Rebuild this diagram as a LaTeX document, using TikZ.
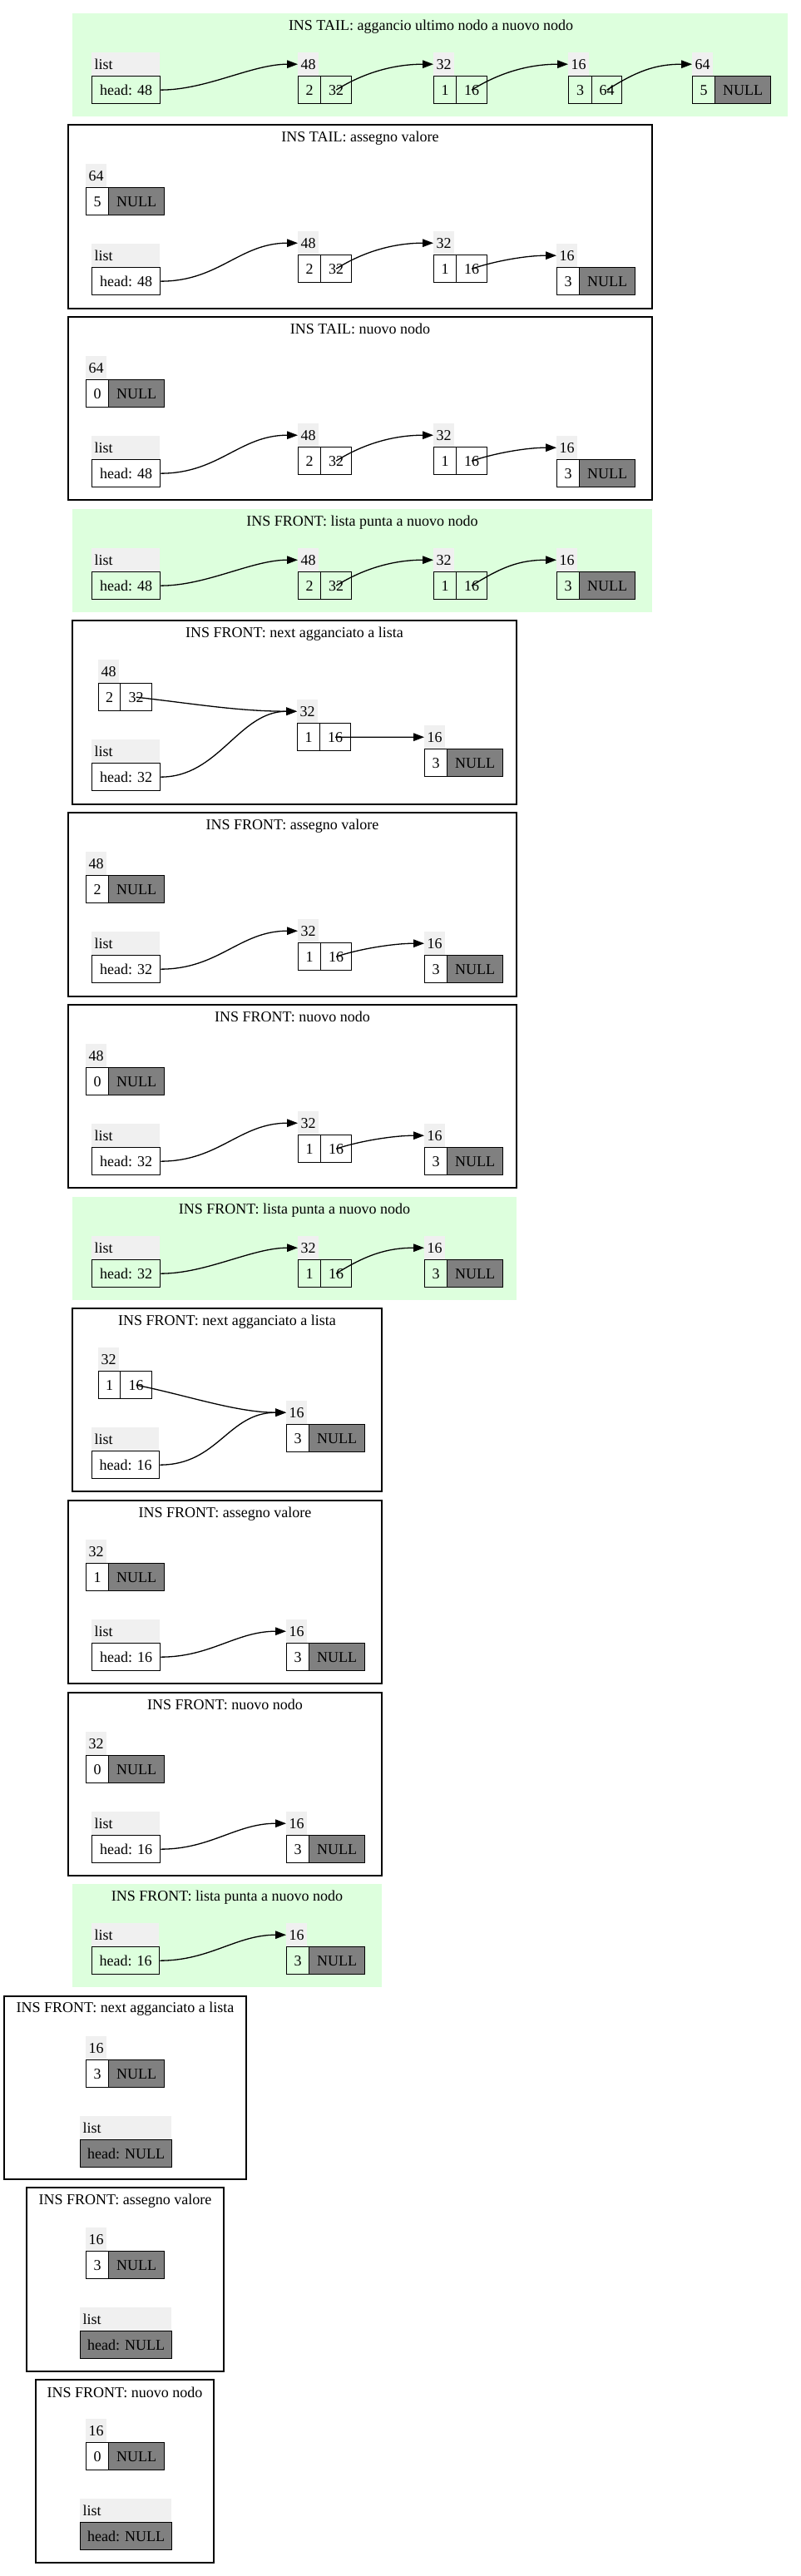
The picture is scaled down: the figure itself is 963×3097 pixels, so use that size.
\documentclass[tikz,border=0pt]{standalone}
\usepackage{fontspec}
\setmainfont{Liberation Serif}
\usetikzlibrary{arrows.meta}
\definecolor{hdrgray}{RGB}{240,240,240}
\definecolor{nullgray}{RGB}{128,128,128}
\definecolor{grn}{RGB}{221,255,221}
\tikzset{
 every node/.style={font=\fontsize{18pt}{21pt}\selectfont, inner sep=0pt},
 hdr/.style={fill=hdrgray, minimum height=28pt, inner xsep=3.5pt, anchor=north west, text height=12.4pt, text depth=0pt},
 cellbox/.style={draw=black, line width=1.3pt, minimum height=33pt, anchor=north west, text height=12.4pt, text depth=0pt},
 nullcell/.style={cellbox, fill=nullgray},
 panel/.style={draw=black, line width=1.3pt},
 greenpanel/.style={fill=grn},
 ttl/.style={anchor=base},
 link/.style={line width=1.3pt, -{Triangle[length=13pt,width=9.5pt]}},
}
% name, x, header y, header, left, right, left width, right width, right style
\newcommand\recnode[9]{%
 \node[hdr] (#1h) at (#2,#3) {#4};
 \node[cellbox, minimum width=#7pt] (#1l) at (#2,#3+28) {#5};
 \node[#9, minimum width=#8pt] (#1r) at (#2+#7,#3+28) {#6};
}
% name, x, header y, width, text, style
\newcommand\listnode[6]{%
 \node[hdr, inner xsep=0pt, text width=#4pt, align=left] (#1h) at (#2,#3) {\hspace*{3.5pt}list};
 \node[#6, minimum width=#4pt] (#1b) at (#2,#3+28) {#5};
}
\begin{document}
\begin{tikzpicture}[x=1pt,y=-1pt]
\useasboundingbox (0,0) rectangle (963,3097);
% ---------- panels ----------
\fill[greenpanel] (87,16) rectangle (947,140);
\node[ttl] (t1) at (518,36) {INS TAIL: aggancio ultimo nodo a nuovo nodo};
\draw[panel] (82,150) rectangle (784,371);
\node[ttl] (t2) at (433,170) {INS TAIL: assegno valore};
\draw[panel] (82,381) rectangle (784,601);
\node[ttl] (t3) at (433,401) {INS TAIL: nuovo nodo};
\fill[greenpanel] (87,612) rectangle (784,736);
\node[ttl] (t4) at (435.5,632) {INS FRONT: lista punta a nuovo nodo};
\draw[panel] (87,746) rectangle (621,967);
\node[ttl] (t5) at (354,766) {INS FRONT: next agganciato a lista};
\draw[panel] (82,977) rectangle (621,1198);
\node[ttl] (t6) at (351.5,997) {INS FRONT: assegno valore};
\draw[panel] (82,1208) rectangle (621,1428);
\node[ttl] (t7) at (351.5,1228) {INS FRONT: nuovo nodo};
\fill[greenpanel] (87,1439) rectangle (621,1563);
\node[ttl] (t8) at (354,1459) {INS FRONT: lista punta a nuovo nodo};
\draw[panel] (87,1573) rectangle (459,1793);
\node[ttl] (t9) at (273,1593) {INS FRONT: next agganciato a lista};
\draw[panel] (82,1804) rectangle (459,2024);
\node[ttl] (t10) at (270.5,1824) {INS FRONT: assegno valore};
\draw[panel] (82,2035) rectangle (459,2255);
\node[ttl] (t11) at (270.5,2055) {INS FRONT: nuovo nodo};
\fill[greenpanel] (87,2265) rectangle (459,2389);
\node[ttl] (t12) at (273,2285) {INS FRONT: lista punta a nuovo nodo};
\draw[panel] (5,2400) rectangle (296,2620);
\node[ttl] (t13) at (150.5,2419) {INS FRONT: next agganciato a lista};
\draw[panel] (32,2630) rectangle (269,2851);
\node[ttl] (t14) at (150.5,2650) {INS FRONT: assegno valore};
\draw[panel] (43,2861) rectangle (257,3081);
\node[ttl] (t15) at (150,2882) {INS FRONT: nuovo nodo};
% ---------- P1 ----------
\listnode{aL}{110}{63}{82}{head: 48}{cellbox}
\recnode{aA}{358}{63}{48}{2}{32}{27}{37}{cellbox}
\recnode{aB}{521}{63}{32}{1}{16}{27}{37}{cellbox}
\recnode{aC}{683}{63}{16}{3}{64}{28}{36}{cellbox}
\recnode{aD}{832}{63}{64}{5}{NULL}{27}{67}{nullcell}
\draw[link] (aLb.east) .. controls +(55,0) and +(-55,0) .. (aAh.west);
\draw[link] (aAr.center) .. controls +(35,-22) and +(-45,0) .. (aBh.west);
\draw[link] (aBr.center) .. controls +(35,-22) and +(-45,0) .. (aCh.west);
\draw[link] (aCr.center) .. controls +(35,-22) and +(-45,0) .. (aDh.west);
% ---------- P2 ----------
\recnode{bN}{103}{197}{64}{5}{NULL}{27}{67}{nullcell}
\listnode{bL}{110}{293}{82}{head: 48}{cellbox}
\recnode{bA}{358}{278}{48}{2}{32}{27}{37}{cellbox}
\recnode{bB}{521}{278}{32}{1}{16}{27}{37}{cellbox}
\recnode{bC}{669}{293}{16}{3}{NULL}{27}{67}{nullcell}
\draw[link] (bLb.east) .. controls +(70,0) and +(-70,0) .. (bAh.west);
\draw[link] (bAr.center) .. controls +(35,-22) and +(-45,0) .. (bBh.west);
\draw[link] (bBr.center) .. controls +(30,-10) and +(-35,0) .. (bCh.west);
% ---------- P3 ----------
\recnode{cN}{103}{428}{64}{0}{NULL}{27}{67}{nullcell}
\listnode{cL}{110}{524}{82}{head: 48}{cellbox}
\recnode{cA}{358}{509}{48}{2}{32}{27}{37}{cellbox}
\recnode{cB}{521}{509}{32}{1}{16}{27}{37}{cellbox}
\recnode{cC}{669}{524}{16}{3}{NULL}{27}{67}{nullcell}
\draw[link] (cLb.east) .. controls +(70,0) and +(-70,0) .. (cAh.west);
\draw[link] (cAr.center) .. controls +(35,-22) and +(-45,0) .. (cBh.west);
\draw[link] (cBr.center) .. controls +(30,-10) and +(-35,0) .. (cCh.west);
% ---------- P4 ----------
\listnode{dL}{110}{659}{82}{head: 48}{cellbox}
\recnode{dA}{358}{659}{48}{2}{32}{27}{37}{cellbox}
\recnode{dB}{521}{659}{32}{1}{16}{27}{37}{cellbox}
\recnode{dC}{669}{659}{16}{3}{NULL}{27}{67}{nullcell}
\draw[link] (dLb.east) .. controls +(55,0) and +(-55,0) .. (dAh.west);
\draw[link] (dAr.center) .. controls +(35,-22) and +(-45,0) .. (dBh.west);
\draw[link] (dBr.center) .. controls +(35,-22) and +(-45,0) .. (dCh.west);
% ---------- P5 ----------
\recnode{eA}{118}{793}{48}{2}{32}{26}{38}{cellbox}
\listnode{eL}{110}{889}{82}{head: 32}{cellbox}
\recnode{eB}{357}{841}{32}{1}{16}{27}{37}{cellbox}
\recnode{eC}{510}{872}{16}{3}{NULL}{27}{67}{nullcell}
\draw[link] (eAr.center) .. controls +(70,8) and +(-70,0) .. (eBh.west);
\draw[link] (eLb.east) .. controls +(70,0) and +(-70,0) .. (eBh.west);
\draw[link] (eBr.center) -- (eCh.west);
% ---------- P6 ----------
\recnode{fN}{103}{1024}{48}{2}{NULL}{27}{67}{nullcell}
\listnode{fL}{110}{1120}{82}{head: 32}{cellbox}
\recnode{fB}{358}{1105}{32}{1}{16}{27}{37}{cellbox}
\recnode{fC}{510}{1120}{16}{3}{NULL}{27}{67}{nullcell}
\draw[link] (fLb.east) .. controls +(70,0) and +(-70,0) .. (fBh.west);
\draw[link] (fBr.center) .. controls +(30,-10) and +(-35,0) .. (fCh.west);
% ---------- P7 ----------
\recnode{gN}{103}{1255}{48}{0}{NULL}{27}{67}{nullcell}
\listnode{gL}{110}{1351}{82}{head: 32}{cellbox}
\recnode{gB}{358}{1336}{32}{1}{16}{27}{37}{cellbox}
\recnode{gC}{510}{1351}{16}{3}{NULL}{27}{67}{nullcell}
\draw[link] (gLb.east) .. controls +(70,0) and +(-70,0) .. (gBh.west);
\draw[link] (gBr.center) .. controls +(30,-10) and +(-35,0) .. (gCh.west);
% ---------- P8 ----------
\listnode{hL}{110}{1486}{82}{head: 32}{cellbox}
\recnode{hB}{358}{1486}{32}{1}{16}{27}{37}{cellbox}
\recnode{hC}{510}{1486}{16}{3}{NULL}{27}{67}{nullcell}
\draw[link] (hLb.east) .. controls +(55,0) and +(-55,0) .. (hBh.west);
\draw[link] (hBr.center) .. controls +(35,-22) and +(-45,0) .. (hCh.west);
% ---------- P9 ----------
\recnode{iB}{118}{1620}{32}{1}{16}{26}{38}{cellbox}
\listnode{iL}{110}{1716}{81}{head: 16}{cellbox}
\recnode{iC}{344}{1684}{16}{3}{NULL}{27}{67}{nullcell}
\draw[link] (iBr.center) .. controls +(60,12) and +(-60,0) .. (iCh.west);
\draw[link] (iLb.east) .. controls +(70,0) and +(-70,0) .. (iCh.west);
% ---------- P10 ----------
\recnode{jN}{103}{1851}{32}{1}{NULL}{27}{67}{nullcell}
\listnode{jL}{110}{1947}{82}{head: 16}{cellbox}
\recnode{jC}{344}{1947}{16}{3}{NULL}{27}{67}{nullcell}
\draw[link] (jLb.east) .. controls +(60,0) and +(-60,0) .. (jCh.west);
% ---------- P11 ----------
\recnode{kN}{103}{2082}{32}{0}{NULL}{27}{67}{nullcell}
\listnode{kL}{110}{2178}{82}{head: 16}{cellbox}
\recnode{kC}{344}{2178}{16}{3}{NULL}{27}{67}{nullcell}
\draw[link] (kLb.east) .. controls +(60,0) and +(-60,0) .. (kCh.west);
% ---------- P12 ----------
\listnode{lL}{110}{2312}{81}{head: 16}{cellbox}
\recnode{lC}{344}{2312}{16}{3}{NULL}{27}{67}{nullcell}
\draw[link] (lLb.east) .. controls +(60,0) and +(-60,0) .. (lCh.west);
% ---------- P13 ----------
\recnode{mC}{103}{2448}{16}{3}{NULL}{27}{67}{nullcell}
\listnode{mL}{96}{2544}{110}{head: NULL}{nullcell}
% ---------- P14 ----------
\recnode{nC}{103}{2678}{16}{3}{NULL}{27}{67}{nullcell}
\listnode{nL}{96}{2774}{110}{head: NULL}{nullcell}
% ---------- P15 ----------
\recnode{oC}{103}{2908}{16}{0}{NULL}{27}{67}{nullcell}
\listnode{oL}{96}{3004}{110}{head: NULL}{nullcell}
\end{tikzpicture}
\end{document}
